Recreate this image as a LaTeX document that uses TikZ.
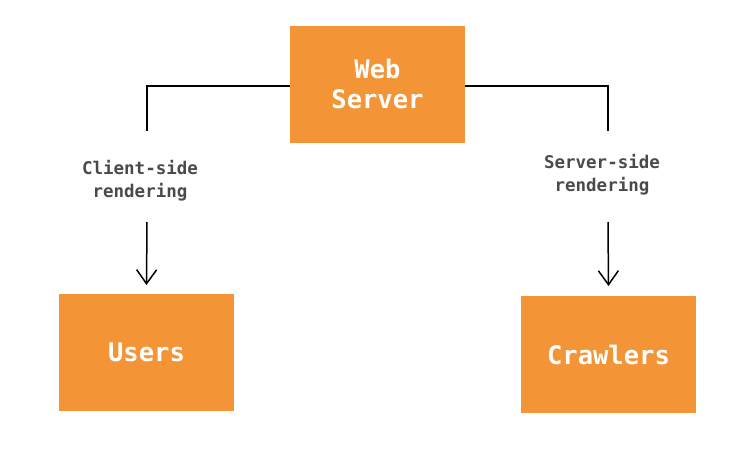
\documentclass[tikz,border=0pt]{standalone}
\usepackage{fontspec}
\setmonofont{DejaVu Sans Mono}
\usetikzlibrary{arrows.meta}
\definecolor{boxorange}{HTML}{F39536}
\definecolor{labelgrey}{HTML}{4A4A4A}
\tikzset{
  box/.style={fill=boxorange, draw=none, minimum width=175pt, minimum height=117pt, inner sep=0pt,
    text=white, font=\ttfamily\bfseries\fontsize{25.5}{30}\selectfont, align=center},
  lbl/.style={text=labelgrey, font=\ttfamily\bfseries\fontsize{17.5}{23}\selectfont, align=center, inner sep=0pt},
  conn/.style={line width=1.5pt, black},
  arr/.style={conn, -{Straight Barb[length=14pt,width=20pt]}}
}
\begin{document}
\begin{tikzpicture}[x=1pt,y=-1pt]
\useasboundingbox (0,0) rectangle (756,461);
\node[box] (web) at (377.5,84) {Web\\Server};
\node[box] (users) at (146.5,352.5) {Users};
\node[box] (crawl) at (608.5,354.5) {Crawlers};
\coordinate (lt) at (147,131);
\coordinate (rt) at (608,131);
\node[lbl] (cl) at (140,181) {Client-side\\rendering};
\node[lbl] (sl) at (602,175) {Server-side\\rendering};
\coordinate (la) at (147,222);
\coordinate (ra) at (608,222);
\draw[conn] (web.west |- 0,86) -| (lt);
\draw[conn] (web.east |- 0,86) -| (rt);
\draw[arr] (la) -- (users.north |- 0,285);
\draw[arr] (ra) -- (crawl.north |- 0,286);
\end{tikzpicture}
\end{document}
